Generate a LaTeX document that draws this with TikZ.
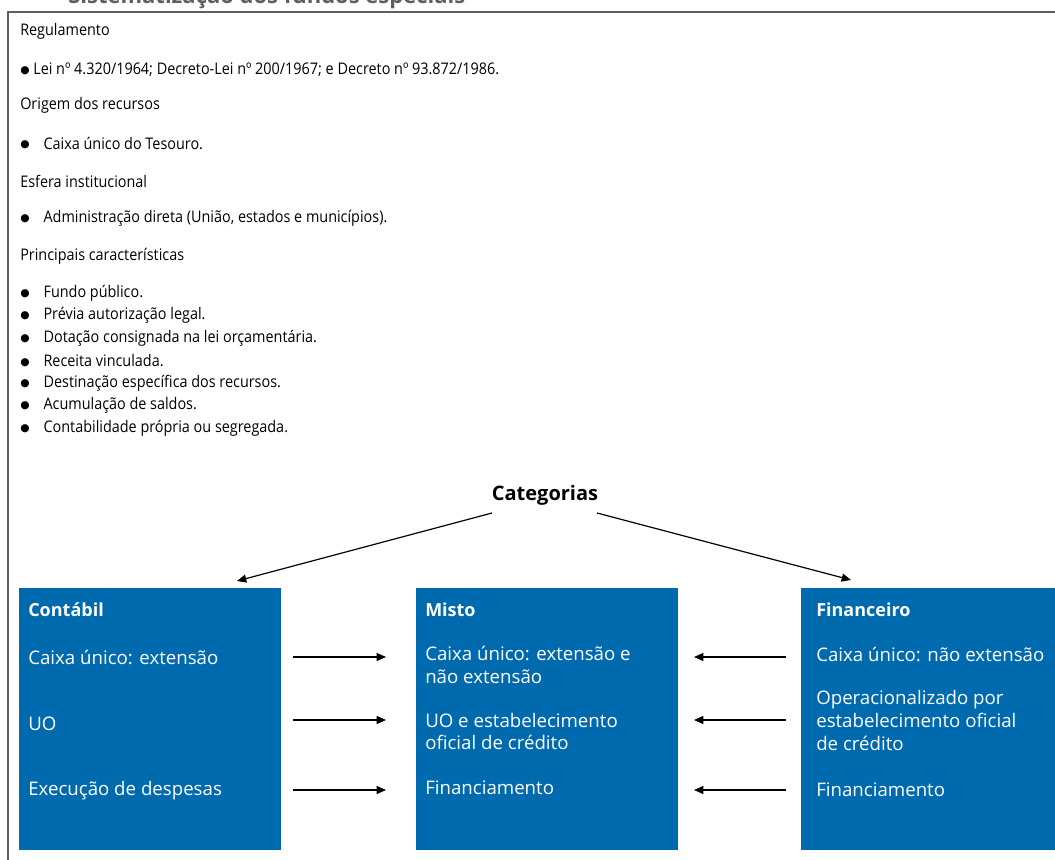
\documentclass[tikz,border=0pt]{standalone}
\usepackage{fontspec}
\setmainfont{Open Sans}
\newfontfamily\condfont[FakeStretch=0.9]{Open Sans}
\newfontfamily\symfont{DejaVu Sans}
\usetikzlibrary{arrows.meta}
\definecolor{fundblue}{RGB}{0,106,174}
\definecolor{framegray}{RGB}{95,95,95}
\newcommand{\blt}{\raisebox{0.8pt}{\symfont\fontsize{8}{10}\selectfont ●}}
\tikzset{cat/.style={fill=fundblue, draw=none, anchor=north west, minimum width=196.5pt, minimum height=196.5pt, inner sep=0pt},
%texts in the blue boxes
head/.style={anchor=west, inner sep=0pt, text=white, font=\bfseries\fontsize{13.5}{16}\selectfont},
item/.style={anchor=west, inner sep=0pt, text=white, align=left, font=\fontsize{14}{16.9}\selectfont},
%texts above
txt/.style={anchor=west, inner sep=0pt, font=\condfont\fontsize{12}{14}\selectfont},
arr/.style={-{Triangle[length=7pt,width=6pt]}, line width=0.9pt}}

\begin{document}
\begin{tikzpicture}[x=0.75pt,y=-0.75pt]
\useasboundingbox (0,0) rectangle (1055,859);
\clip (0,0) rectangle (1055,859);
% title, cut by the page
\node[anchor=base west, inner sep=0pt, text=framegray, font=\bfseries\fontsize{16.5}{18}\selectfont] (title) at (68,4) {Sistematização dos fundos especiais};
\draw[framegray, line width=1pt] (8,880) -- (8,12) -- (1080,12);

% upper part
\node[txt] (reg) at (20,31) {Regulamento};
\node[txt] (lei) at (20,70) {\blt\ Lei nº 4.320/1964; Decreto-Lei nº 200/1967; e Decreto nº 93.872/1986.};
\node[txt] (orig) at (20,105) {Origem dos recursos};
\node[txt] (caixa) at (20,143) {\blt\hspace{10.5pt}Caixa único do Tesouro.};
\node[txt] (esf) at (20,181) {Esfera institucional};
\node[txt] (adm) at (20,218) {\blt\hspace{10.5pt}Administração direta (União, estados e municípios).};
\node[txt] (princ) at (20,256) {Principais características};
\foreach \t [count=\i] in {Fundo público., Prévia autorização legal., Dotação consignada na lei orçamentária., Receita vinculada., Destinação específica dos recursos., Acumulação de saldos., Contabilidade própria ou segregada.}
    \node[txt] (car\i) at (20,270.5+22.5*\i) {\blt\hspace{10.5pt}\t};

% categories
\node[font=\bfseries\fontsize{15}{17}\selectfont, inner sep=0pt] (categ) at (545,495) {Categorias};
\node[cat] (contabil) at (19,588) {};
\node[cat] (misto) at (416,588) {};
\node[cat, minimum width=200pt] (financeiro) at (801,588) {};

\coordinate (cl) at (492,513);
\coordinate (cr) at (597,513);
\coordinate (tl) at (237,581);
\coordinate (tr) at (851,580);
\draw[arr] (cl) -- (tl);
\draw[arr] (cr) -- (tr);

\node[head] (hc) at (28,610) {Contábil};
\node[head] (hm) at (425,610) {Misto};
\node[head] (hf) at (816,610) {Financeiro};

\node[item] (c1) at (28,657) {Caixa único: extensão};
\node[item] (c2) at (28,724) {UO};
\node[item] (c3) at (28,791) {Execução de despesas};
\node[item] (m1) at (425,665) {Caixa único: extensão e\\não extensão};
\node[item] (m2) at (425,731.5) {UO e estabelecimento\\oficial de crédito};
\node[item] (m3) at (425,788) {Financiamento};
\node[item] (f1) at (816,654) {Caixa único: não extensão};
\node[item] (f2) at (816,720.5) {Operacionalizado por\\estabelecimento oficial\\de crédito};
\node[item] (f3) at (816,790) {Financiamento};

%arrows between the boxes
\foreach \i/\y in {1/657, 2/720, 3/790} {
    \coordinate (la\i) at (293,\y);
    \coordinate (lb\i) at (386,\y);
    \coordinate (ra\i) at (786,\y);
    \coordinate (rb\i) at (694,\y);
    \draw[arr] (la\i) -- (lb\i);
    \draw[arr] (ra\i) -- (rb\i);
}
\end{tikzpicture}
\end{document}
